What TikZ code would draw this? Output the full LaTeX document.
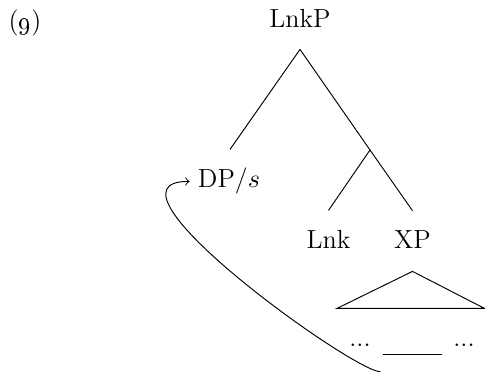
\documentclass[tikz,border=0pt]{standalone}
\usepackage{amsmath}
\usepackage{amsfonts}

\begin{document}
\begin{tikzpicture}[x=0.42pt,y=-0.42pt]
  \tikzset{every node/.style={anchor=base,font=\fontsize{11}{13}\selectfont},
           movement/.style={->}}
  \useasboundingbox (0,0) rectangle (485,373);
  \node (ex) at (25,30) {(\oldstylenums{9})};
  \node (lnkp) at (300,28) {LnkP};
  \node (dp) at (229,188) {DP/$s$};
  \node (lnk) at (328.5,249) {Lnk};
  \node (xp) at (412.5,249) {XP};
  \node (dotsl) at (360,347) {...};
  \node[inner sep=0pt] (gap) at (412.5,355) {\rule{25pt}{0.4pt}};
  \node (dotsr) at (464,347) {...};
  \coordinate (top) at ([shift={(0,13)}]lnkp.south);
  \coordinate (mid) at (370,150);
  \draw (top) -- ([shift={(1,-10.5)}]dp.north);
  \draw (top) -- (mid) -- ([shift={(0,-12)}]xp.north);
  \draw (mid) -- ([shift={(0,-12)}]lnk.north);
  \draw ([shift={(0,14)}]xp.south) -- ([shift={(-75.5,51)}]xp.south)
        -- ([shift={(72,51)}]xp.south) -- cycle;
  \draw[movement] ([shift={(-2,15.5)}]gap.south west) .. controls (352,371) and (88,181) .. (dp.west);
\end{tikzpicture}
\end{document}
